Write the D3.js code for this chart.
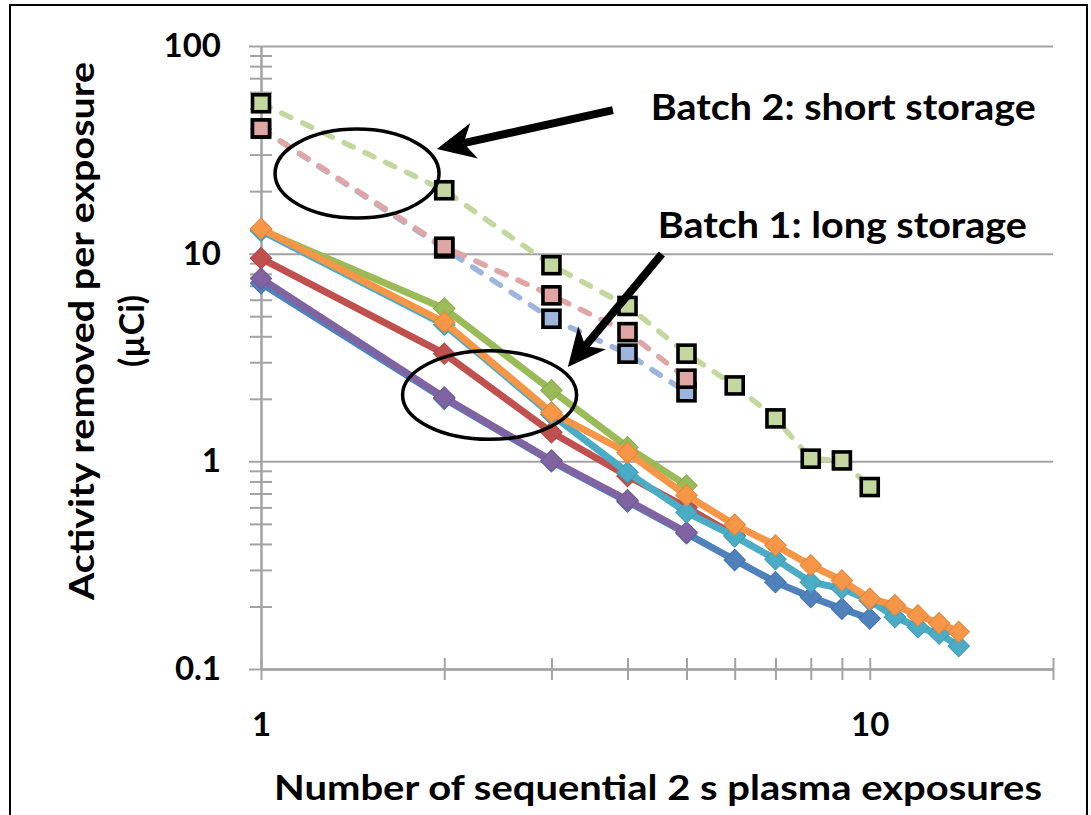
<!DOCTYPE html>
<html>
<head>
<meta charset="utf-8">
<script src="https://cdn.jsdelivr.net/npm/d3@7"></script>
<style>
  html, body { margin: 0; padding: 0; background: #fff; }
  svg { display: block; }
  text { font-family: Lato, "Open Sans", sans-serif; font-weight: 700; fill: #000; }
</style>
</head>
<body>
<svg id="chart" width="1091" height="815"></svg>
<script>
// Number of sequential exposures (x values)
const exposures = [1, 2, 3, 4, 5, 6, 7, 8, 9, 10, 11, 12, 13, 14];

// Batch 1 (long storage) – activity removed per exposure, µCi
const b1Blue   = [7.2, 2.0, 1.0, 0.64, 0.45, 0.335, 0.262, 0.222, 0.195, 0.175];
const b1Red    = [9.5, 3.3, 1.38, 0.85, 0.6, 0.44];
const b1Green  = [13.0, 5.45, 2.2, 1.17, 0.766];
const b1Purple = [7.6, 2.03, 1.01, 0.65, 0.455];
const b1Cyan   = [12.9, 4.55, 1.68, 0.885, 0.568, 0.435, 0.338, 0.262, 0.244, 0.214, 0.178, 0.159, 0.148, 0.129];
const b1Orange = [13.2, 4.67, 1.72, 1.1, 0.686, 0.495, 0.394, 0.316, 0.267, 0.218, 0.203, 0.181, 0.166, 0.151];

// Batch 2 (short storage)
const b2Blue  = [40.0, 10.6, 4.86, 3.3, 2.15];
const b2Red   = [40.1, 10.8, 6.3, 4.19, 2.5];
const b2Green = [53.0, 20.2, 8.8, 5.6, 3.3, 2.32, 1.61, 1.03, 1.01, 0.752];

// Axis ticks
const xTickValues = [1, 2, 3, 4, 5, 6, 7, 8, 9, 10, 20];
const xLabelValues = [1, 10];
const yMajorValues = [0.1, 1, 10, 100];
const yMinorValues = [0.1, 1, 10].flatMap(d => [2, 3, 4, 5, 6, 7, 8, 9].map(k => +(k * d).toPrecision(2)));

const xTitle = "Number of sequential 2 s plasma exposures";
const yTitle1 = "Activity removed per exposure";
const yTitle2 = "(µCi)";
const note2 = "Batch 2: short storage";
const note1 = "Batch 1: long storage";

const solidSeries = [
  { values: b1Blue,   color: "#4F81BD" },
  { values: b1Red,    color: "#C0504D" },
  { values: b1Green,  color: "#9BBB59" },
  { values: b1Purple, color: "#8064A2" },
  { values: b1Cyan,   color: "#4BACC6" },
  { values: b1Orange, color: "#F79646" }
];
const dashedSeries = [
  { values: b2Blue,  color: "#9DB5DC" },
  { values: b2Red,   color: "#E0A6A5" },
  { values: b2Green, color: "#C4D79F" }
];

const svg = d3.select("#chart");
const grid = "#A3A3A3";

// Outer frame
svg.append("rect")
  .attr("x", 10).attr("y", 5).attr("width", 1077).attr("height", 840)
  .attr("fill", "none").attr("stroke", "#000").attr("stroke-width", 2);

const x = d3.scaleLog().domain([1, 20]).range([261, 1053]);
const y = d3.scaleLog().domain([0.1, 100]).range([669, 46]);

// Horizontal gridlines at each decade (extend a little left of the axis)
svg.append("g")
  .attr("transform", "translate(249,0)")
  .call(d3.axisRight(y).tickValues(yMajorValues).tickSize(1053 - 249).tickFormat(""))
  .call(g => g.select(".domain").remove())
  .call(g => g.selectAll("line").attr("stroke", grid).attr("stroke-width", 2));

// Y axis with crossing minor ticks
[d3.axisLeft, d3.axisRight].forEach(ax => {
  svg.append("g")
    .attr("transform", "translate(261,0)")
    .call(ax(y).tickValues(yMinorValues).tickSizeInner(11).tickSizeOuter(0).tickFormat(""))
    .call(g => g.select(".domain").attr("stroke", grid).attr("stroke-width", 2))
    .call(g => g.selectAll("line").attr("stroke", grid).attr("stroke-width", 2));
});

// Y labels
svg.append("g")
  .attr("transform", "translate(261,0)")
  .call(d3.axisLeft(y).tickValues(yMajorValues).tickSize(0).tickPadding(40)
        .tickFormat(d => d3.format("~g")(d)))
  .call(g => g.select(".domain").remove())
  .call(g => g.selectAll("text").attr("font-size", 33).attr("fill", "#000")
        .attr("font-family", "Lato, 'Open Sans', sans-serif").attr("font-weight", 700));

// X axis with crossing ticks
[d3.axisBottom, d3.axisTop].forEach(ax => {
  svg.append("g")
    .attr("transform", "translate(0,669)")
    .call(ax(x).tickValues(xTickValues).tickSizeInner(11).tickSizeOuter(0).tickFormat(""))
    .call(g => g.select(".domain").attr("stroke", grid).attr("stroke-width", 2))
    .call(g => g.selectAll("line").attr("stroke", grid).attr("stroke-width", 2));
});

// X labels
svg.append("g")
  .attr("transform", "translate(0,669)")
  .call(d3.axisBottom(x).tickValues(xLabelValues).tickSize(0).tickPadding(44)
        .tickFormat(d => d3.format("~g")(d)))
  .call(g => g.select(".domain").remove())
  .call(g => g.selectAll("text").attr("font-size", 33).attr("fill", "#000")
        .attr("font-family", "Lato, 'Open Sans', sans-serif").attr("font-weight", 700));

// Axis titles
svg.append("text")
  .attr("x", 274).attr("y", 800)
  .attr("font-size", 34)
  .attr("textLength", 768).attr("lengthAdjust", "spacingAndGlyphs")
  .text(xTitle);

const yt = svg.append("g").attr("transform", "rotate(-90)");
yt.append("text")
  .attr("x", -331).attr("y", 94)
  .attr("text-anchor", "middle").attr("font-size", 34)
  .attr("textLength", 538).attr("lengthAdjust", "spacingAndGlyphs")
  .text(yTitle1);
yt.append("text")
  .attr("x", -331).attr("y", 144)
  .attr("text-anchor", "middle").attr("font-size", 34)
  .text(yTitle2);

const line = d3.line().x((d, i) => x(exposures[i])).y(d => y(d));

// Batch 2: dashed lines with outlined squares
const b2 = svg.append("g");
dashedSeries.forEach(s => {
  b2.append("path")
    .attr("d", line(s.values))
    .attr("fill", "none")
    .attr("stroke", s.color)
    .attr("stroke-width", 5.5)
    .attr("stroke-linecap", "round")
    .attr("stroke-dasharray", "10,13");
});
dashedSeries.forEach(s => {
  b2.selectAll(null).data(s.values).join("rect")
    .attr("x", (d, i) => x(exposures[i]) - 8.5)
    .attr("y", d => y(d) - 8.5)
    .attr("width", 17).attr("height", 17)
    .attr("fill", s.color)
    .attr("stroke", "#000").attr("stroke-width", 3.6);
});

// Batch 1: solid lines with diamond markers
const diamond = d3.symbol(d3.symbolSquare, 230);
const b1 = svg.append("g");
solidSeries.forEach(s => {
  b1.append("path")
    .attr("d", line(s.values))
    .attr("fill", "none")
    .attr("stroke", s.color)
    .attr("stroke-width", 7)
    .attr("stroke-linejoin", "round");
  b1.selectAll(null).data(s.values).join("path")
    .attr("d", diamond)
    .attr("transform", (d, i) => `translate(${x(exposures[i])},${y(d)}) rotate(45)`)
    .attr("fill", s.color)
    .attr("stroke", d3.color(s.color).darker(0.3))
    .attr("stroke-width", 1);
});

// Annotations (anchored in data coordinates)
const ann = svg.append("g");
const ellipses = [
  { n: 1.438, v: 24.3, rx: 82, ry: 44.5 },
  { n: 2.374, v: 2.085, rx: 87, ry: 44.3 }
];
ann.selectAll("ellipse").data(ellipses).join("ellipse")
  .attr("cx", d => x(d.n)).attr("cy", d => y(d.v))
  .attr("rx", d => d.rx).attr("ry", d => d.ry)
  .attr("fill", "none").attr("stroke", "#000").attr("stroke-width", 3.5);

const arrows = [
  { from: [3.785, 49.1], to: [1.945, 31.9] },
  { from: [4.555, 9.96], to: [3.192, 2.845] }
];
arrows.forEach(a => {
  const x0 = x(a.from[0]), y0 = y(a.from[1]);
  const x1 = x(a.to[0]),   y1 = y(a.to[1]);
  const len = Math.hypot(x1 - x0, y1 - y0);
  const ux = (x1 - x0) / len, uy = (y1 - y0) / len;
  const nx = -uy, ny = ux;
  const L = 38, W = 18;
  const bx = x1 - ux * L, by = y1 - uy * L;
  const mx = x1 - ux * L * 0.72, my = y1 - uy * L * 0.72;
  ann.append("line")
    .attr("x1", x0).attr("y1", y0).attr("x2", mx).attr("y2", my)
    .attr("stroke", "#000").attr("stroke-width", 8);
  ann.append("path")
    .attr("d", `M${x1},${y1} L${bx + nx * W},${by + ny * W} L${mx},${my} L${bx - nx * W},${by - ny * W} Z`)
    .attr("fill", "#000");
});

ann.append("text")
  .attr("x", x(4.369)).attr("y", y(43.97))
  .attr("font-size", 37)
  .attr("textLength", 385).attr("lengthAdjust", "spacingAndGlyphs")
  .text(note2);
ann.append("text")
  .attr("x", x(4.486)).attr("y", y(11.89))
  .attr("font-size", 37)
  .attr("textLength", 369).attr("lengthAdjust", "spacingAndGlyphs")
  .text(note1);
</script>
</body>
</html>
